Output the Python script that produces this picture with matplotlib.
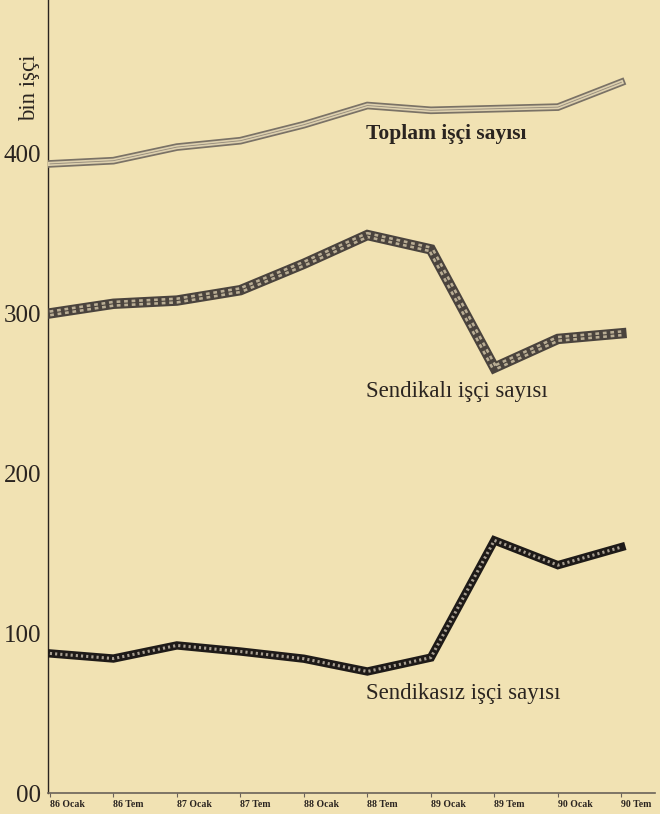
import matplotlib
matplotlib.use("Agg")
import matplotlib.pyplot as plt

# Data (bin işçi)
periods = ["86 Ocak", "86 Tem", "87 Ocak", "87 Tem", "88 Ocak",
           "88 Tem", "89 Ocak", "89 Tem", "90 Ocak", "90 Tem"]
toplam = [393.5, 395.5, 404, 408, 418, 430, 427, 428, 429, 444.5]
sendikali = [300, 306, 308, 314.5, 331, 349, 340, 266, 284, 287.5]
sendikasiz = [87.3, 84.1, 92.3, 88.5, 84, 76, 84.7, 158, 142.5, 153.8]
yticks = [0, 100, 200, 300, 400]
ytick_labels = ["00", "100", "200", "300", "400"]

BG = "#F1E2B3"
INK = "#2a2420"
SERIF = ["Liberation Serif", "DejaVu Serif"]

fig = plt.figure(figsize=(6.6, 8.14), dpi=100, facecolor=BG)
ax = fig.add_axes([48/660, 1 - 793/814, (655-48)/660, 793/814])
ax.set_facecolor(BG)

x = list(range(len(periods)))

# Toplam: double outline ribbon
ax.plot(x, toplam, color="#7a7266", lw=5.5, solid_joinstyle="miter", zorder=3)
ax.plot(x, toplam, color="#ddd0ae", lw=3.0, solid_joinstyle="miter", zorder=4)
ax.plot(x, toplam, color="#948a7a", lw=0.6, zorder=5)

# Sendikalı: cross-hatched thick ribbon
ax.plot(x, sendikali, color="#4a433d", lw=7.5, solid_joinstyle="miter", zorder=3)
ax.plot(x, sendikali, color="#b9ad94", lw=4.5, dashes=(0.6, 0.6), zorder=4)
ax.plot(x, sendikali, color="#4a433d", lw=0.8, zorder=5)

# Sendikasız: dark checkered ribbon
ax.plot(x, sendikasiz, color="#1e1a18", lw=6.0, solid_joinstyle="miter", zorder=3)
ax.plot(x, sendikasiz, color="#a89f92", lw=2.2, dashes=(0.7, 1.0), zorder=4)

ax.set_xlim(-0.03, 9.53)
ax.set_ylim(0, 496)

for s in ["top", "right"]:
    ax.spines[s].set_visible(False)
ax.spines["left"].set_color(INK)
ax.spines["left"].set_linewidth(1.0)
ax.spines["bottom"].set_color("#6a6258")
ax.spines["bottom"].set_linewidth(1.2)

ax.set_yticks(yticks)
ax.set_yticklabels(ytick_labels, fontfamily=SERIF, fontsize=18, color=INK)
ax.tick_params(axis="y", length=0, pad=5)

ax.set_xticks(x)
ax.set_xticklabels(periods, fontfamily=SERIF, fontsize=7, fontweight="bold",
                   color=INK, ha="left")
ax.tick_params(axis="x", length=3, width=0.8, color="#6a6258", pad=2)

fig.text(30/660, 1 - 88/814, "bin işçi", rotation=90, fontfamily=SERIF,
         fontsize=16.5, color=INK, ha="center", va="center")

ax.text(4.98, 412, "Toplam işçi sayısı", fontfamily=SERIF, fontsize=15.5,
        fontweight="bold", color=INK, ha="left", va="center")
ax.text(4.98, 251, "Sendikalı işçi sayısı", fontfamily=SERIF, fontsize=16.5,
        color=INK, ha="left", va="center")
ax.text(4.98, 62, "Sendikasız işçi sayısı", fontfamily=SERIF, fontsize=16.5,
        color=INK, ha="left", va="center")

fig.savefig("out.png", dpi=100, facecolor=BG)
